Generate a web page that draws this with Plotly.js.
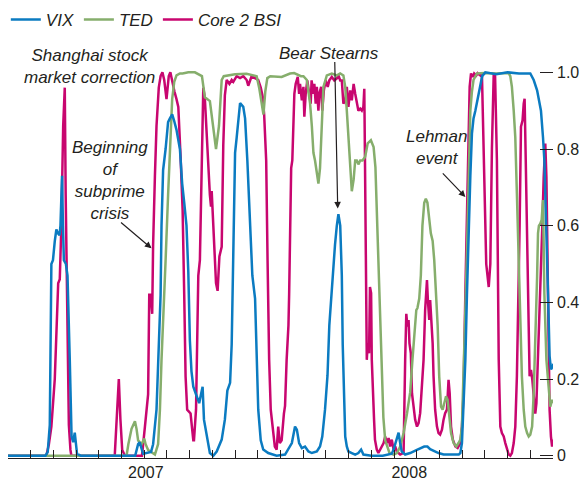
<!DOCTYPE html>
<html><head><meta charset="utf-8">
<script src="https://cdn.plot.ly/plotly-3.0.1.min.js"></script>
<style>html,body{margin:0;padding:0;background:#fff}</style>
</head><body><div id="chart" style="width:584px;height:485px"></div>
<script>
// x = months since January 2007 (0 .. 24), values 0 .. 1
const SERIES_NAMES = ["VIX", "TED", "Core 2 BSI"];
const YEAR_POS = [6.07, 17.67];
const YEAR_LABELS = ["2007", "2008"];
const Y_TICKS = [0, 0.2, 0.4, 0.6, 0.8, 1.0];
const Y_LABELS = ["0", "0.2", "0.4", "0.6", "0.8", "1.0"];
const LEFT_TICKS = [0.2, 0.4, 0.6, 0.8, 1.0];

const VIX_X = [0,1.65,1.75,1.84,1.91,1.98,2.06,2.13,2.2,2.27,2.31,2.38,2.42,2.46,2.55,2.62,2.72,2.8,2.87,2.94,3.04,3.2,
5.6,5.73,5.8,5.88,5.95,6.3,6.39,6.54,6.61,6.72,6.76,6.83,6.94,7.05,7.13,7.23,7.31,7.42,7.57,7.67,7.76,7.86,7.94,8.01,8.08,8.16,8.31,8.42,8.5,8.57,8.63,8.75,8.89,9.04,9.19,9.41,9.55,9.66,9.78,9.85,9.92,10.0,10.07,10.14,10.22,10.36,10.44,10.54,10.66,10.76,10.88,10.95,11.02,11.13,11.24,11.46,11.83,
12.2,12.5,12.64,12.72,12.82,12.94,13.08,13.23,13.38,13.6,13.74,13.84,13.96,14.07,14.15,14.26,14.33,14.4,14.48,14.55,14.63,14.7,14.74,14.8,14.85,14.92,14.99,15.14,15.29,15.43,15.55,15.65,16.0,16.5,16.9,16.98,17.13,17.2,17.27,17.34,17.49,17.71,18.03,18.33,18.47,18.59,18.96,19.18,19.85,19.92,19.99,20.06,20.14,20.21,20.28,20.36,20.43,20.5,20.58,20.65,20.72,20.8,20.88,21.02,21.5,22.0,22.5,23.0,23.15,23.3,23.41,23.47,23.56,23.62,23.66,23.71,23.74,23.78,23.83,23.85,23.91,23.96,24.0];
const VIX_Y = [0,0,0.01,0.08,0.5,0.51,0.56,0.59,0.58,0.575,0.6,0.73,0.6,0.51,0.5,0.47,0.25,0.05,0.035,0.06,0.005,0,
0,0.03,0.035,0.02,0.005,0.01,0.03,0.12,0.25,0.42,0.6,0.745,0.8,0.87,0.88,0.89,0.875,0.85,0.8,0.71,0.66,0.6,0.48,0.3,0.22,0.18,0.155,0.137,0.16,0.18,0.094,0.05,0.007,0,0.011,0.042,0.094,0.17,0.19,0.29,0.51,0.79,0.83,0.88,0.92,0.91,0.88,0.77,0.61,0.47,0.41,0.25,0.12,0.04,0.016,0.007,0,
0.003,0.033,0.076,0.068,0.033,0.02,0.024,0.011,0.007,0.011,0.024,0.05,0.12,0.21,0.34,0.44,0.49,0.55,0.6,0.63,0.6,0.47,0.29,0.12,0.05,0.024,0.011,0.007,0.003,0.007,0.016,0.003,0,0,0.005,0.016,0.042,0.06,0.033,0.011,0.003,0.007,0.016,0.024,0.024,0.017,0.007,0.003,0.003,0.007,0.033,0.12,0.25,0.42,0.6,0.73,0.84,0.88,0.9,0.92,0.94,0.97,0.99,1.0,0.995,1.0,0.997,0.997,0.98,0.953,0.918,0.9,0.83,0.77,0.684,0.6,0.51,0.425,0.34,0.26,0.225,0.23,0.24];

const TED_X = [0,5.22,5.3,5.44,5.59,5.66,5.73,5.88,6.0,6.06,6.17,6.47,6.61,6.69,6.76,6.83,6.94,7.05,7.13,7.23,7.32,7.42,7.57,7.69,7.94,8.23,8.54,8.67,8.89,9.02,9.16,9.29,9.41,9.5,10.0,10.5,10.95,11.06,11.18,11.25,11.33,11.42,11.55,12.05,12.42,12.6,12.9,13.01,13.16,13.3,13.38,13.45,13.52,13.6,13.67,13.74,13.82,13.89,14.04,14.26,14.48,14.63,14.77,14.85,14.92,14.99,15.07,15.14,15.22,15.29,15.36,15.43,15.51,15.61,15.73,15.84,15.98,16.1,16.18,16.24,16.31,16.39,16.46,16.53,16.61,16.8,16.98,17.13,17.27,17.42,17.57,17.71,17.81,17.9,17.98,18.03,18.11,18.18,18.25,18.33,18.4,18.47,18.55,18.62,18.7,18.77,18.85,18.92,18.99,19.07,19.14,19.21,19.29,19.36,19.43,19.51,19.62,19.74,19.84,19.92,19.99,20.06,20.14,20.21,20.28,20.36,20.43,20.5,20.65,21.0,21.5,22.05,22.12,22.19,22.27,22.34,22.41,22.49,22.56,22.63,22.71,22.78,22.86,22.93,23.0,23.08,23.15,23.22,23.3,23.34,23.38,23.44,23.5,23.56,23.62,23.71,23.81,23.88,23.96,24.0];
const TED_Y = [0,0,0.03,0.07,0.09,0.07,0.04,0.03,0.045,0.03,0.015,0.003,0.03,0.12,0.25,0.37,0.51,0.68,0.81,0.93,0.975,0.992,0.997,0.997,1.0,1.0,0.99,0.935,0.925,0.87,0.8,0.86,0.98,0.99,0.995,0.996,0.99,0.96,0.92,0.89,0.95,0.985,0.99,0.988,0.997,0.998,0.99,0.99,0.98,0.92,0.86,0.79,0.77,0.73,0.71,0.75,0.857,0.962,0.992,0.997,0.992,0.997,0.992,0.962,0.9,0.83,0.745,0.69,0.72,0.77,0.77,0.76,0.77,0.77,0.78,0.815,0.823,0.805,0.753,0.64,0.52,0.4,0.22,0.1,0.04,0.007,0.003,0.007,0.024,0.059,0.11,0.165,0.25,0.32,0.38,0.385,0.41,0.47,0.6,0.66,0.67,0.66,0.615,0.58,0.56,0.51,0.42,0.34,0.206,0.128,0.12,0.137,0.155,0.146,0.1,0.059,0.033,0.024,0.033,0.042,0.076,0.25,0.38,0.53,0.73,0.9,0.95,0.98,0.997,0.998,0.997,0.998,0.99,0.962,0.9,0.83,0.684,0.51,0.337,0.207,0.12,0.076,0.059,0.05,0.055,0.076,0.163,0.293,0.467,0.58,0.6,0.605,0.615,0.667,0.424,0.25,0.163,0.128,0.146,0.137];

const BSI_X = [0,1.69,1.8,1.91,2.06,2.16,2.21,2.28,2.35,2.43,2.5,2.54,2.62,2.68,2.75,2.79,4.7,4.81,4.88,4.95,5.03,5.15,5.9,6.03,6.17,6.22,6.28,6.35,6.39,6.47,6.54,6.64,6.72,6.8,6.88,6.98,7.08,7.15,7.25,7.33,7.42,7.5,7.6,7.69,7.76,7.82,7.89,8.04,8.16,8.19,8.28,8.38,8.45,8.53,8.6,8.67,8.75,8.82,8.89,8.94,8.97,9.01,9.07,9.16,9.23,9.31,9.41,9.48,9.55,9.63,9.75,9.85,9.92,10.07,10.22,10.36,10.51,10.58,10.73,10.88,11.02,11.13,11.22,11.28,11.37,11.43,11.5,11.57,11.65,11.75,11.83,11.9,11.97,12.05,12.15,12.2,12.27,12.35,12.38,12.42,12.47,12.52,12.57,12.61,12.67,12.76,12.82,12.86,12.94,13.01,13.05,13.11,13.18,13.25,13.33,13.37,13.45,13.49,13.55,13.6,13.67,13.71,13.79,13.84,13.91,13.99,14.08,14.15,14.26,14.37,14.48,14.55,14.63,14.7,14.77,14.85,14.92,14.99,15.07,15.14,15.22,15.29,15.36,15.43,15.51,15.58,15.65,15.69,15.72,15.77,15.8,15.84,15.9,15.94,15.99,16.02,16.06,16.12,16.16,16.24,16.31,16.54,16.61,16.68,16.76,16.83,16.9,16.98,17.05,17.12,17.27,17.42,17.49,17.54,17.59,17.64,17.68,17.74,17.79,17.86,17.93,18.01,18.08,18.15,18.23,18.3,18.37,18.45,18.49,18.55,18.59,18.64,18.7,18.74,18.81,18.89,18.96,19.03,19.11,19.18,19.25,19.33,19.4,19.45,19.51,19.59,19.7,19.8,19.92,19.99,20.06,20.14,20.18,20.24,20.28,20.33,20.39,20.47,20.53,20.62,20.68,20.8,20.87,20.97,21.06,21.17,21.24,21.31,21.39,21.45,21.53,21.61,21.68,21.75,21.83,21.9,21.97,22.05,22.12,22.19,22.27,22.34,22.41,22.49,22.53,22.59,22.66,22.71,22.75,22.8,22.86,22.93,22.97,23.03,23.09,23.15,23.22,23.27,23.34,23.41,23.47,23.53,23.59,23.66,23.71,23.77,23.81,23.85,23.91,23.96,24.0];
const BSI_Y = [0,0,0.03,0.076,0.2,0.35,0.45,0.46,0.6,0.86,0.96,0.68,0.25,0.08,0.015,0,0,0.12,0.2,0.095,0.015,0,0,0.076,0.16,0.42,0.42,0.37,0.55,0.73,0.86,0.96,0.99,1.0,0.98,0.93,0.99,1.0,0.97,0.95,0.93,0.91,0.78,0.64,0.42,0.207,0.12,0.11,0.04,0.04,0.12,0.47,0.51,0.77,0.96,0.93,0.83,0.77,0.68,0.65,0.69,0.64,0.545,0.45,0.43,0.52,0.545,0.81,0.94,0.98,0.97,0.98,0.975,0.99,0.985,0.99,0.98,0.965,0.99,0.984,0.98,0.96,0.935,0.89,0.77,0.51,0.25,0.12,0.08,0.024,0.016,0.076,0.033,0.04,0.11,0.13,0.25,0.34,0.42,0.6,0.75,0.77,0.86,0.944,0.97,0.988,0.944,0.97,0.927,0.962,0.884,0.944,0.979,0.953,0.918,0.979,0.944,0.97,0.918,0.962,0.9,0.944,0.962,0.9,0.953,0.979,0.962,0.979,0.988,0.979,0.984,0.992,0.979,0.979,0.918,0.927,0.962,0.91,0.953,0.927,0.97,0.944,0.918,0.9,0.905,0.9,0.91,0.957,0.77,0.424,0.25,0.293,0.267,0.44,0.424,0.25,0.163,0.094,0.042,0.016,0.007,0.033,0.05,0.033,0.046,0.024,0.042,0.016,0.024,0.011,0.003,0.007,0.25,0.37,0.337,0.354,0.293,0.267,0.163,0.12,0.094,0.076,0.085,0.111,0.18,0.25,0.38,0.458,0.406,0.354,0.406,0.363,0.293,0.207,0.12,0.076,0.059,0.055,0.068,0.094,0.111,0.12,0.198,0.163,0.076,0.042,0.024,0.02,0.033,0.076,0.163,0.424,0.528,0.684,0.858,0.962,0.997,0.988,0.997,0.992,0.998,0.992,0.997,0.7,0.5,0.44,0.5,0.8,0.997,0.99,0.77,0.25,0.076,0.059,0.05,0.033,0.016,0.003,0,0.007,0.033,0.076,0.207,0.424,0.6,0.858,0.875,0.918,0.931,0.77,0.51,0.337,0.207,0.224,0.198,0.163,0.11,0.137,0.25,0.38,0.467,0.6,0.727,0.814,0.727,0.424,0.25,0.12,0.05,0.024,0.042];

const COLORS = {VIX: "#0b7bc1", TED: "#86ae6c", BSI: "#c8066f"};
const FONT = "Liberation Sans, Arial, Helvetica, sans-serif";
const INK = "#231f20";

const lineW = 2.5;
const traces = [
  {x: BSI_X, y: BSI_Y, name: SERIES_NAMES[2], type: "scatter", mode: "lines",
   line: {color: COLORS.BSI, width: lineW}, legendrank: 3},
  {x: TED_X, y: TED_Y, name: SERIES_NAMES[1], type: "scatter", mode: "lines",
   line: {color: COLORS.TED, width: lineW}, legendrank: 2},
  {x: VIX_X, y: VIX_Y, name: SERIES_NAMES[0], type: "scatter", mode: "lines",
   line: {color: COLORS.VIX, width: lineW}, legendrank: 1}
];

const annFont = {family: FONT, size: 17, style: "italic", color: INK};
const arrow = (x, y, ax, ay) => ({x, y, ax, ay, xref: "x", yref: "y", text: "", showarrow: true,
  arrowhead: 2, arrowsize: 1.1, arrowwidth: 1.2, arrowcolor: INK, standoff: 0, startstandoff: 0});

const layout = {
  width: 584, height: 485,
  margin: {l: 8, r: 31, t: 57, b: 27, autoexpand: false},
  paper_bgcolor: "#fff", plot_bgcolor: "#fff",
  font: {family: FONT, size: 16, color: INK},
  showlegend: true,
  legend: {orientation: "h", x: -0.004, xanchor: "left", y: 1.137, yanchor: "top",
    font: {family: FONT, size: 17, style: "italic", color: INK},
    traceorder: "normal", bgcolor: "rgba(0,0,0,0)"},
  xaxis: {range: [0, 24], showgrid: false, zeroline: false, showline: true, linecolor: INK, linewidth: 1,
    tickmode: "array", tickvals: YEAR_POS, ticktext: YEAR_LABELS, ticks: "inside", ticklen: 0,
    tickfont: {family: FONT, size: 16, color: INK},
    minor: {tickmode: "linear", tick0: 0, dtick: 1, ticks: "inside", ticklen: 8, tickwidth: 1, tickcolor: INK, showgrid: false}},
  yaxis: {range: [-0.006, 1.04], side: "right", showgrid: false, zeroline: false, showline: false,
    tickmode: "array", tickvals: Y_TICKS, ticktext: Y_LABELS, ticks: "inside", ticklen: 13, tickwidth: 1, tickcolor: INK,
    ticklabelstandoff: 3, tickfont: {family: FONT, size: 16, color: INK}},
  yaxis2: {range: [-0.006, 1.04], overlaying: "y", side: "left", showgrid: false, zeroline: false, showline: false,
    tickmode: "array", tickvals: LEFT_TICKS, ticks: "inside", ticklen: 13, tickwidth: 1, tickcolor: INK,
    showticklabels: false},
  annotations: [
    {x: 3.6, y: 1.014, xref: "x", yref: "y", text: "Shanghai stock<br>market correction", showarrow: false, font: annFont, align: "center"},
    {x: 4.48, y: 0.717, xref: "x", yref: "y", text: "Beginning<br>of<br>subprime<br>crisis", showarrow: false, font: annFont, align: "center"},
    {x: 14.14, y: 1.0096, xref: "x", yref: "paper", yanchor: "middle", text: "Bear Stearns", showarrow: false, font: annFont, align: "center"},
    {x: 18.86, y: 0.803, xref: "x", yref: "y", text: "Lehman<br>event", showarrow: false, font: annFont, align: "center"},
    arrow(6.32, 0.541, -32, -27),
    arrow(14.52, 0.645, -3, -148),
    arrow(20.14, 0.675, -24, -25)
  ]
};

Plotly.newPlot("chart", traces, layout, {displayModeBar: false, staticPlot: true});
</script>
</body></html>
